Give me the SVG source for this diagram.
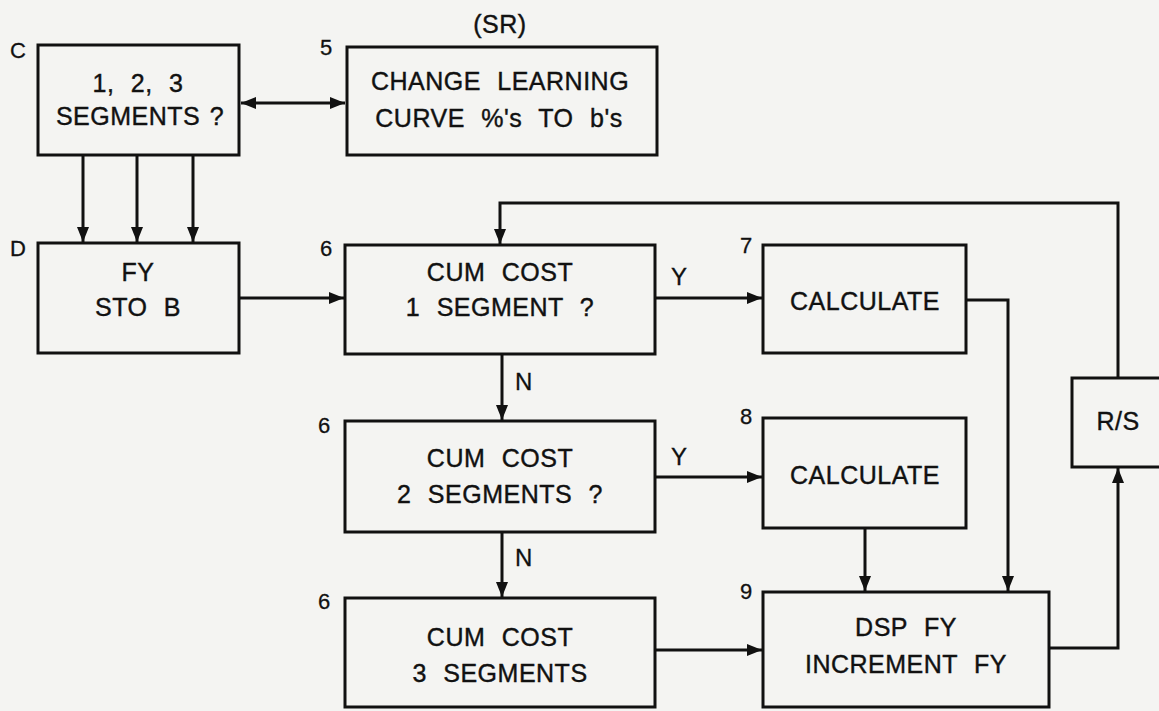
<svg xmlns="http://www.w3.org/2000/svg" width="1159" height="711" viewBox="0 0 1159 711">
<style>
.box{fill:none;stroke:#111;stroke-width:3}
.ln{fill:none;stroke:#111;stroke-width:3}
.t{font-family:"Liberation Sans",Arial,sans-serif;font-size:25px;letter-spacing:0.5px;word-spacing:9px;fill:#111;stroke:#111;stroke-width:0.4;text-anchor:middle}
.lb{font-family:"Liberation Sans",Arial,sans-serif;font-size:22px;fill:#111;stroke:#111;stroke-width:0.3}
.yn{font-family:"Liberation Sans",Arial,sans-serif;font-size:24px;fill:#111;stroke:#111;stroke-width:0.3}
</style>
<defs>
<marker id="ah" markerUnits="userSpaceOnUse" markerWidth="16" markerHeight="14" refX="15" refY="7" orient="auto-start-reverse">
<path d="M0,1 L15,7 L0,13 Z" fill="#111"/>
</marker>
</defs>
<rect width="1159" height="711" fill="#f4f4f2"/>
<g id="connectors">
<line class="ln" x1="241" y1="103" x2="345" y2="103" marker-start="url(#ah)" marker-end="url(#ah)"/>
<line class="ln" x1="83" y1="155" x2="83" y2="242" marker-end="url(#ah)"/>
<line class="ln" x1="137" y1="155" x2="137" y2="242" marker-end="url(#ah)"/>
<line class="ln" x1="193" y1="155" x2="193" y2="242" marker-end="url(#ah)"/>
<line class="ln" x1="239" y1="298" x2="344" y2="298" marker-end="url(#ah)"/>
<line class="ln" x1="655" y1="298" x2="762" y2="298" marker-end="url(#ah)"/>
<line class="ln" x1="502" y1="354" x2="502" y2="420" marker-end="url(#ah)"/>
<line class="ln" x1="655" y1="477" x2="762" y2="477" marker-end="url(#ah)"/>
<line class="ln" x1="502" y1="532" x2="502" y2="597" marker-end="url(#ah)"/>
<line class="ln" x1="655" y1="650" x2="762" y2="650" marker-end="url(#ah)"/>
<polyline class="ln" points="966,300 1008,300 1008,591" marker-end="url(#ah)"/>
<line class="ln" x1="865" y1="528" x2="865" y2="591" marker-end="url(#ah)"/>
<polyline class="ln" points="1049,648 1118,648 1118,468" marker-end="url(#ah)"/>
<polyline class="ln" points="1118,378 1118,203 500,203 500,244" marker-end="url(#ah)"/>
<text class="yn" x="515" y="390">N</text>
<text class="yn" x="515" y="566">N</text>
<text class="yn" x="671" y="285">Y</text>
<text class="yn" x="671" y="465">Y</text>
</g>
<g id="nodeC">
<rect class="box" x="38" y="45" width="201" height="110"/>
<text class="lb" x="10" y="58">C</text>
<text class="t" x="138" y="92">1, 2, 3</text>
<text class="t" x="140" y="125" style="word-spacing:2px">SEGMENTS ?</text>
</g>
<g id="node5">
<rect class="box" x="347" y="47" width="310" height="108"/>
<text class="lb" x="320" y="55">5</text>
<text class="t" x="500" y="33" style="word-spacing:0">(SR)</text>
<text class="t" x="500" y="90">CHANGE LEARNING</text>
<text class="t" x="499" y="127">CURVE %'s TO b's</text>
</g>
<g id="nodeD">
<rect class="box" x="38" y="243" width="201" height="110"/>
<text class="lb" x="10" y="256">D</text>
<text class="t" x="138" y="281">FY</text>
<text class="t" x="138" y="316">STO B</text>
</g>
<g id="node6a">
<rect class="box" x="345" y="245" width="310" height="109"/>
<text class="lb" x="320" y="256">6</text>
<text class="t" x="500" y="281">CUM COST</text>
<text class="t" x="500" y="316">1 SEGMENT ?</text>
</g>
<g id="node6b">
<rect class="box" x="345" y="421" width="310" height="111"/>
<text class="lb" x="318" y="433">6</text>
<text class="t" x="500" y="467">CUM COST</text>
<text class="t" x="500" y="503">2 SEGMENTS ?</text>
</g>
<g id="node6c">
<rect class="box" x="345" y="598" width="310" height="109"/>
<text class="lb" x="318" y="609">6</text>
<text class="t" x="500" y="646">CUM COST</text>
<text class="t" x="500" y="682">3 SEGMENTS</text>
</g>
<g id="node7">
<rect class="box" x="763" y="245" width="203" height="108"/>
<text class="lb" x="740" y="253">7</text>
<text class="t" x="865" y="310">CALCULATE</text>
</g>
<g id="node8">
<rect class="box" x="763" y="418" width="203" height="110"/>
<text class="lb" x="740" y="424">8</text>
<text class="t" x="865" y="484">CALCULATE</text>
</g>
<g id="node9">
<rect class="box" x="763" y="592" width="286" height="115"/>
<text class="lb" x="740" y="599">9</text>
<text class="t" x="906" y="636">DSP FY</text>
<text class="t" x="906" y="673">INCREMENT FY</text>
</g>
<g id="nodeRS">
<rect class="box" x="1072" y="378" width="100" height="89"/>
<text class="t" x="1118" y="430" style="word-spacing:0">R/S</text>
</g>
</svg>
